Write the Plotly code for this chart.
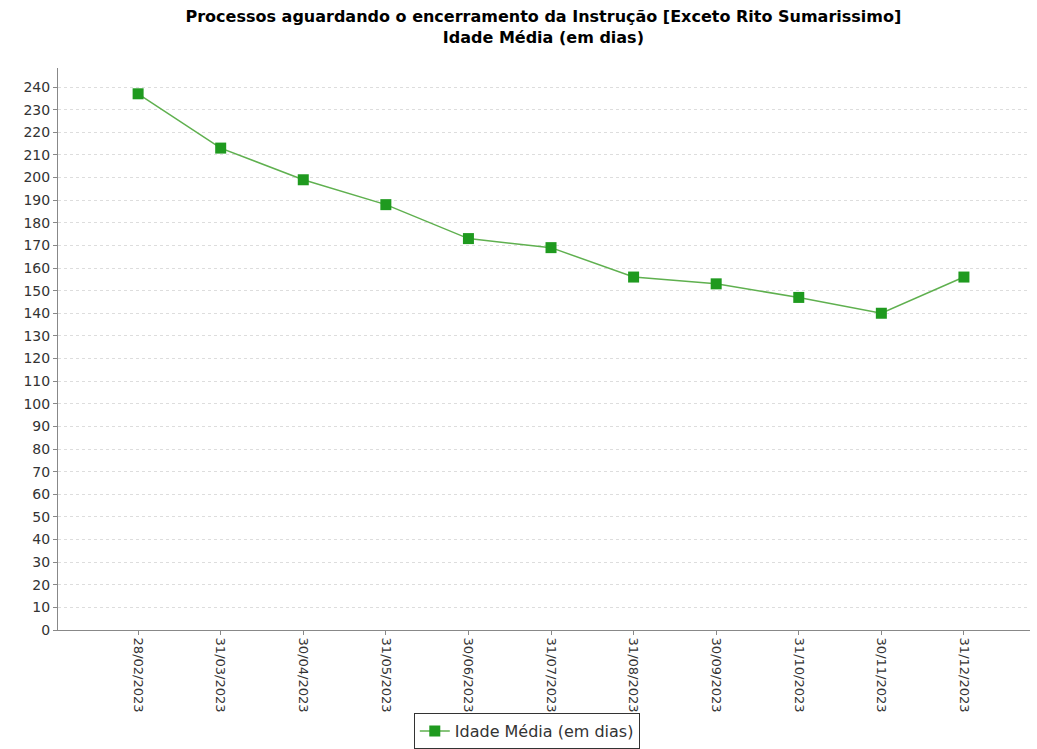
import plotly.graph_objects as go

# Data
datas = ["28/02/2023", "31/03/2023", "30/04/2023", "31/05/2023", "30/06/2023",
         "31/07/2023", "31/08/2023", "30/09/2023", "31/10/2023", "30/11/2023",
         "31/12/2023"]
idade_media = [237, 213, 199, 188, 173, 169, 156, 153, 147, 140, 156]

fig = go.Figure()

fig.add_trace(go.Scatter(
    x=list(range(len(datas))),
    y=idade_media,
    mode="lines+markers",
    name="Idade Média (em dias)",
    line=dict(color="#5fb04f", width=1.5),
    marker=dict(symbol="square", size=11, color="#1f9a1f"),
))

fig.update_layout(
    width=1037,
    height=749,
    paper_bgcolor="white",
    plot_bgcolor="white",
    margin=dict(l=58, r=7, t=68, b=119),
    title=dict(
        text="<b>Processos aguardando o encerramento da Instrução [Exceto Rito Sumarissimo]"
             "<br>Idade Média (em dias)</b>",
        xref="container", x=0.524, xanchor="center",
        yref="container", y=0.97, yanchor="middle",
        font=dict(family="DejaVu Sans", size=16, color="black"),
    ),
    font=dict(family="DejaVu Sans", size=12, color="#333333"),
    showlegend=True,
    legend=dict(
        orientation="h",
        xref="container", x=0.508, xanchor="center",
        yref="container", y=0.0, yanchor="bottom",
        bordercolor="#333333", borderwidth=1, font=dict(size=16),
    ),
)

fig.update_xaxes(
    tickmode="array",
    tickvals=list(range(len(datas))),
    ticktext=datas,
    tickangle=90,
    range=[-0.97, 10.8],
    showgrid=False,
    showline=True, linecolor="#888888", linewidth=1,
    ticks="outside", ticklen=4, tickcolor="#888888",
    tickfont=dict(size=13),
    zeroline=False,
    automargin=False,
)
fig.update_yaxes(
    range=[0, 248.4],
    dtick=10,
    showgrid=True, gridcolor="#dddddd", griddash="dot", gridwidth=1,
    showline=True, linecolor="#888888", linewidth=1,
    ticks="outside", ticklen=4, tickcolor="#888888",
    tickfont=dict(size=14),
    zeroline=False,
    automargin=False,
)

# drop the default page margin so the figure fills the window exactly
fig.write_html("out.html", config={"displayModeBar": False},
               post_script="document.body.style.margin='0';")
